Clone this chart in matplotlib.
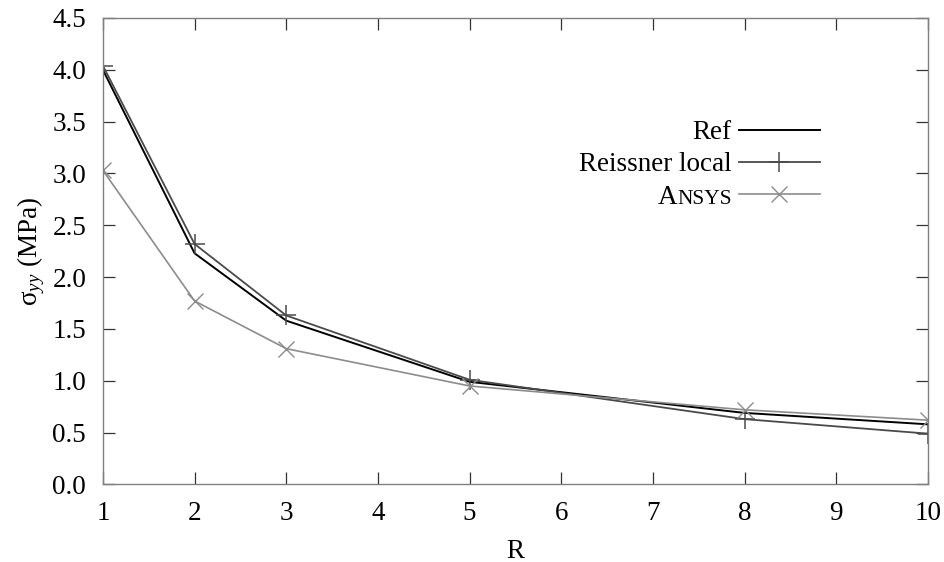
import numpy as np
import matplotlib
matplotlib.use('Agg')
import matplotlib.pyplot as plt

plt.rcParams['font.family'] = ['Liberation Serif', 'DejaVu Serif']
plt.rcParams['font.size'] = 19.5
plt.rcParams['mathtext.fontset'] = 'custom'
plt.rcParams['mathtext.rm'] = 'Liberation Serif'
plt.rcParams['mathtext.it'] = 'Liberation Serif:italic'

# data
R = [1, 2, 3, 5, 8, 10]
ref = [4.00, 2.23, 1.58, 0.99, 0.69, 0.58]
reissner = [4.04, 2.32, 1.63, 1.01, 0.63, 0.49]
ansys = [3.03, 1.77, 1.31, 0.95, 0.72, 0.62]

xticks = np.arange(1, 11)
yticks = np.arange(0, 4.51, 0.5)

fig = plt.figure(figsize=(9.44, 5.62), dpi=100)
ax = fig.add_axes([0.109, 0.138, 0.874, 0.830])

ax.plot(R, ref, color='k', lw=1.4, label='Ref')
ax.plot(R, reissner, color='#4a4a4a', lw=1.3, marker='+', ms=14,
        mew=1.1, label='Reissner local')
ax.plot(R, ansys, color='#8c8c8c', lw=1.2, marker='x', ms=12,
        mew=1.0, label='ANSYS')

ax.set(xlim=(1, 10), ylim=(0, 4.5), xticks=xticks, yticks=yticks)
ax.set_yticklabels([f'{v:.1f}' for v in yticks])
ax.tick_params(direction='in', length=8.5, width=0.9, color='#333333',
               top=True, right=True)
ax.tick_params(axis='x', pad=12)
ax.tick_params(axis='y', pad=12)
for sp in ax.spines.values():
    sp.set_color('#808080')
    sp.set_linewidth(1.0)

ax.set_xlabel('R', labelpad=9)
ax.set_ylabel('σ$_{yy}$ (MPa)', labelpad=4)

leg = ax.legend(loc='upper right', bbox_to_anchor=(0.869, 0.781),
                frameon=False, markerfirst=False, handlelength=3.0,
                handletextpad=0.25, labelspacing=0.27, borderpad=0,
                borderaxespad=0)

# small caps for ANSYS: shrink the legend text to "NSYS", put a full-size A before it
t = leg.get_texts()[2]
t.set_text('NSYS')
t.set_fontsize(15.5)
ax.annotate('A', xy=(0, 0), xycoords=t, ha='right', va='bottom',
            xytext=(0, -0.6), textcoords='offset points', zorder=11)

fig.savefig('out.png', dpi=100)
